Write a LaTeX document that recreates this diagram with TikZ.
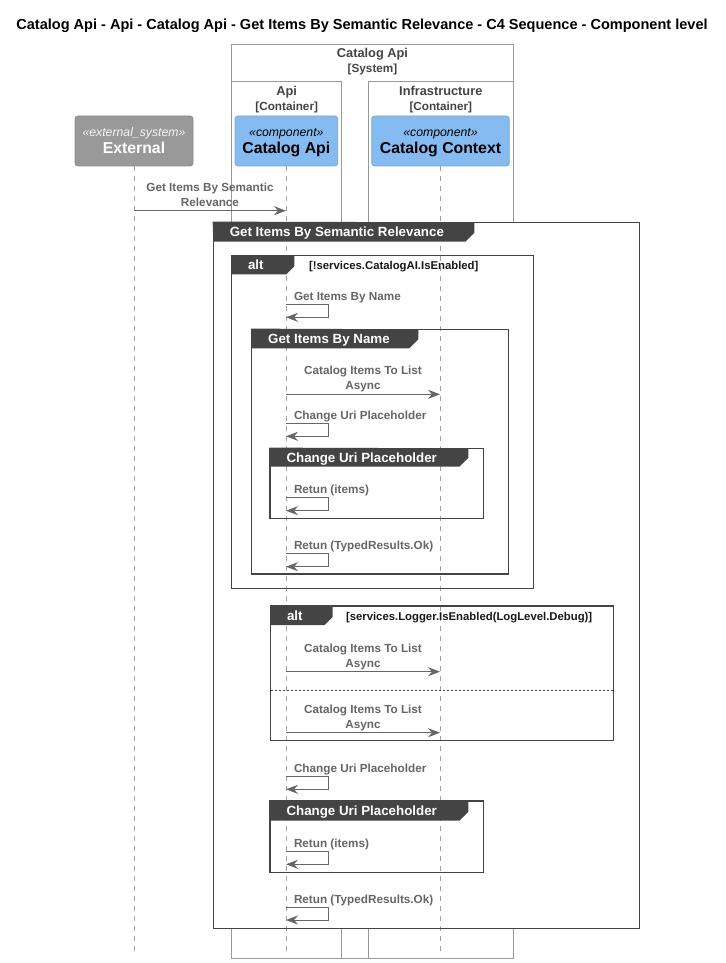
\documentclass[tikz,border=0pt]{standalone}
\usepackage{fontspec}
\setmainfont{Liberation Sans}
\usetikzlibrary{arrows.meta,calc,fit}

\definecolor{msgc}{HTML}{666666}
\definecolor{lifec}{HTML}{A0A0A0}
\definecolor{bndc}{HTML}{999999}
\definecolor{bndtxt}{HTML}{444444}
\definecolor{grpc}{HTML}{444444}
\definecolor{compc}{HTML}{85BBF0}
\definecolor{compb}{HTML}{78A8D8}
\definecolor{extc}{HTML}{999999}
\definecolor{extb}{HTML}{8A8A8A}

\tikzset{
  txt/.style={inner sep=0pt, outer sep=0pt, text height=0.7em, text depth=0pt},
  titletxt/.style={txt, font=\fontsize{10.9}{13}\selectfont\bfseries},
  bndname/.style={txt, text=bndtxt, font=\fontsize{9.6}{12}\selectfont\bfseries},
  bndtag/.style={txt, text=bndtxt, font=\fontsize{8.8}{11}\selectfont\bfseries},
  boundary/.style={draw=bndc, line width=0.75pt, inner sep=0pt},
  compbox/.style={draw=compb, fill=compc, rounded corners=2.25pt, line width=0.6pt, inner sep=0pt},
  extbox/.style={draw=extb, fill=extc, rounded corners=2.25pt, line width=0.6pt, inner sep=0pt},
  stereo/.style={txt, font=\fontsize{9.2}{11}\selectfont\itshape},
  compname/.style={txt, font=\fontsize{11.85}{14}\selectfont\bfseries},
  life/.style={draw=lifec, line width=0.75pt, dash pattern=on 3.75pt off 3.75pt},
  msg/.style={draw=msgc, line width=0.75pt, -{Stealth[length=9pt,width=6.75pt,inset=3pt]}},
  msglbl/.style={txt, text=msgc, align=center, font=\fontsize{8.8}{11.25}\selectfont\bfseries},
  grpframe/.style={draw=grpc, line width=1pt, inner sep=0pt},
  grptitle/.style={txt, text=white, font=\fontsize{10}{12}\selectfont\bfseries},
  condtxt/.style={txt, text=black!90, font=\fontsize{8.5}{10}\selectfont\bfseries},
  septxt/.style={draw=grpc, line width=0.75pt, dash pattern=on 1.5pt off 1.5pt},
}

% self call on the Catalog Api lifeline: name, loop top y, loop bottom y, text
\newcommand\selfmsg[4]{%
  \coordinate (#1-a) at (286,#2);
  \coordinate (#1-c) at (328.3,#2);
  \coordinate (#1-b) at (286,#3);
  \draw[msg] (#1-a) -- (#1-c) |- (#1-b);
  \node[msglbl, anchor=west] (#1-lbl) at ($(#1-a)+(8,-8.8)$) {#4};
}
% call between two lifelines: name, from x, to x, y, two-line text
% (the node is centred on its last line)
\newcommand\callmsg[5]{%
  \coordinate (#1-a) at (#2,#4);
  \coordinate (#1-b) at (#3,#4);
  \draw[msg] (#1-a) -- (#1-b);
  \node[msglbl] (#1-lbl) at ($(#1-a)!0.5!(#1-b)+(0,-9)$) {#5};
}
% group frame with a dark title tab: name, x0, y0, x1, y1, tab right, tab bottom, title
\newcommand\grpframe[8]{%
  \node[grpframe, fit={(#2,#3) (#4,#5)}] (#1) {};
  \fill[grpc] (#1.north west) -- (#6,#3) -- (#6,#7-9) -- (#6-9,#7) -- (#2,#7) -- cycle;
  \node[grptitle, anchor=west] (#1-title) at (#2+16.5,{(#3+#7)/2}) {#8};
}
% alt frame: name, x0, y0, x1, y1, tab right, tab bottom, guard x, guard
\newcommand\altframe[9]{%
  \node[grpframe, fit={(#2,#3) (#4,#5)}] (#1) {};
  \fill[grpc] (#1.north west) -- (#6,#3) -- (#6,#7-8) -- (#6-8,#7) -- (#2,#7) -- cycle;
  \node[grptitle, anchor=west] (#1-title) at (#2+16.3,{(#3+#7)/2}) {alt};
  \node[condtxt, anchor=west] (#1-guard) at (#8,{(#3+#7)/2}) {#9};
}

\begin{document}
\begin{tikzpicture}[x=0.75pt, y=-0.75pt]
\useasboundingbox (0,0) rectangle (725,963);
\fill[white] (0,0) rectangle (725,963);

% title
\node[titletxt] (title) at (362,25)
  {Catalog Api - Api - Catalog Api - Get Items By Semantic Relevance - C4 Sequence - Component level};

% system and container boundaries
\node[boundary, fit={(231.7,44.3) (513.3,958.3)}] (sys) {};
\node[boundary, fit={(231.7,81.7) (341.7,958.3)}] (apic) {};
\node[boundary, fit={(368.3,81.7) (513.3,958.3)}] (infc) {};
\node[bndname] (sys-name) at (372.5,53.3) {Catalog Api};
\node[bndtag]  (sys-tag)  at (372.5,68.3) {[System]};
\node[bndname] (apic-name) at (286.7,90.7) {Api};
\node[bndtag]  (apic-tag)  at (286.7,105.7) {[Container]};
\node[bndname] (infc-name) at (440.8,90.7) {Infrastructure};
\node[bndtag]  (infc-tag)  at (440.8,105.7) {[Container]};

% participants
\node[extbox,  fit={(75,116) (193,166)}] (ext) {};
\node[compbox, fit={(235,116) (337.7,166)}] (api) {};
\node[compbox, fit={(371.7,116) (509.3,166)}] (ctx) {};
\node[stereo, text=white!96!black] (ext-st) at (134,131.7) {«external\_system»};
\node[compname, text=white] (ext-nm) at (134,149.3) {External};
\node[stereo] (api-st) at (286.35,131.7) {«component»};
\node[compname] (api-nm) at (286.35,149.3) {Catalog Api};
\node[stereo] (ctx-st) at (440.5,131.7) {«component»};
\node[compname] (ctx-nm) at (440.5,149.3) {Catalog Context};

% outer group background hides the boundary lines
\fill[white] (213.3,222.3) rectangle (639.3,928.3);

% lifelines
\coordinate (ext-end) at (134,951.7);
\coordinate (api-end) at (286,951.7);
\coordinate (ctx-end) at (440,951.7);
\draw[life] (ext.south -| ext-end) -- (ext-end);
\draw[life] (api.south -| api-end) -- (api-end);
\draw[life] (ctx.south -| ctx-end) -- (ctx-end);

% first call
\callmsg{m1}{134}{286}{210.7}{Get Items By Semantic\\Relevance}

% main group
\grpframe{gsem}{213.3}{222.3}{639.3}{928.3}{474.3}{241.7}{Get Items By Semantic Relevance}

% alternative: AI disabled
\altframe{alt1}{231.7}{255.7}{533.3}{588.3}{294.3}{274.3}{309}{[!services.CatalogAI.IsEnabled]}
\selfmsg{s1}{304.3}{317.3}{Get Items By Name}
\grpframe{gname}{251.7}{329.3}{508.3}{574}{418.3}{348.3}{Get Items By Name}
\callmsg{m2}{286}{440}{394.3}{Catalog Items To List\\Async}
\selfmsg{s2}{423.3}{436.3}{Change Uri Placeholder}
\grpframe{gcup1}{270}{448.3}{483.3}{518.3}{468.3}{466.7}{Change Uri Placeholder}
\selfmsg{s3}{497.7}{510.7}{Retun (items)}
\selfmsg{s4}{553.3}{566.7}{Retun (TypedResults.Ok)}

% alternative: debug logging
\altframe{alt2}{270.7}{606}{613.3}{740.7}{332.7}{625}{346}{[services.Logger.IsEnabled(LogLevel.Debug)]}
\callmsg{m3}{286}{440}{671.7}{Catalog Items To List\\Async}
\coordinate (sep-a) at (270.7,690.7);
\coordinate (sep-b) at (613.3,690.7);
\draw[septxt] (sep-a) -- (sep-b);
\callmsg{m4}{286}{440}{732.7}{Catalog Items To List\\Async}

% trailing calls
\selfmsg{s5}{776.7}{789.3}{Change Uri Placeholder}
\grpframe{gcup2}{270}{801}{483.3}{872.3}{468.3}{820.7}{Change Uri Placeholder}
\selfmsg{s6}{851.7}{864.3}{Retun (items)}
\selfmsg{s7}{907.3}{920}{Retun (TypedResults.Ok)}
\end{tikzpicture}
\end{document}
